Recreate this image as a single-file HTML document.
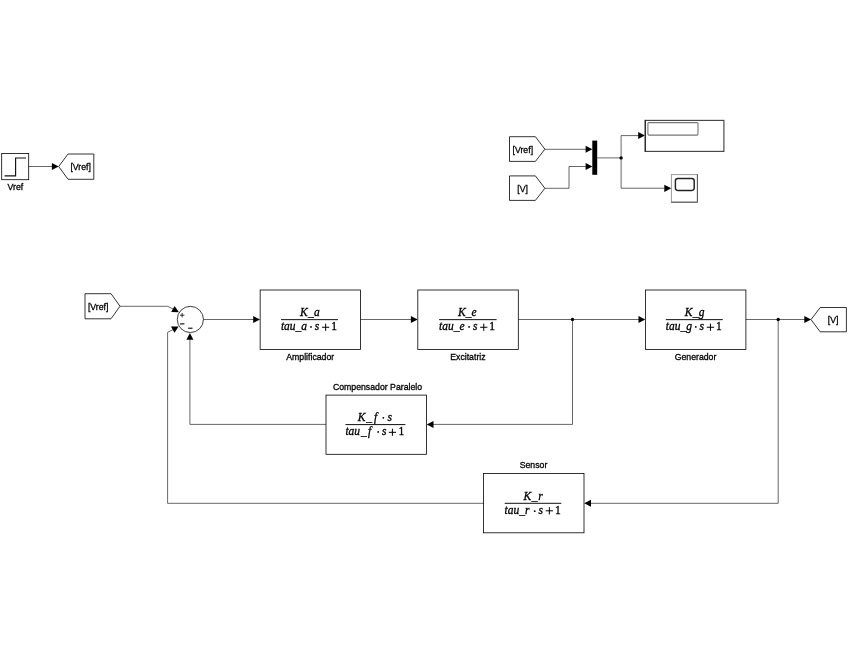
<!DOCTYPE html>
<html>
<head>
<meta charset="utf-8">
<title>Simulink AVR model</title>
<style>
html,body{margin:0;padding:0;background:#fff;}
body{width:848px;height:655px;overflow:hidden;font-family:"Liberation Sans",sans-serif;}
svg{display:block;filter:grayscale(1);}
.ln{stroke:#000;stroke-width:0.6;fill:none;}
.blk{stroke:#000;stroke-width:0.8;fill:#fff;}
.ar{fill:#000;stroke:none;}
.lab{font-family:"Liberation Sans",sans-serif;font-size:9.1px;fill:#000;stroke:#000;stroke-width:0.3;text-anchor:middle;}
.tag{font-family:"Liberation Sans",sans-serif;font-size:9.1px;fill:#000;stroke:#000;stroke-width:0.3;text-anchor:middle;}
.tf{font-family:"Liberation Serif",serif;font-size:11.5px;font-style:italic;fill:#000;stroke:#000;stroke-width:0.3;text-anchor:start;}
.up{font-style:normal;}
</style>
</head>
<body>
<svg width="848" height="655" viewBox="0 0 848 655">
<rect x="0" y="0" width="848" height="655" fill="#fff"/>

<g id="step">
  <rect class="blk" x="1.7" y="153.4" width="27.0" height="26.3"/>
  <polyline points="4.6,175.9 15.6,175.9 15.6,158 26,158" fill="none" stroke="#111" stroke-width="1.15"/>
  <text class="lab" transform="translate(15.4,190.2) scale(0.96,1.05)">Vref</text>
  <line class="ln" x1="28.7" y1="166.5" x2="53" y2="166.5"/>
  <polygon class="ar" points="51.90,163.00 58.70,166.50 51.90,170.00"/>
  <polygon class="blk" points="58.7,166.5 68,154 93.8,154 93.8,179.3 68,179.3"/>
  <text class="tag" transform="translate(80.7,169.8) scale(0.96,1.05)">[Vref]</text>
</g>
<g id="top-right">
  <polygon class="blk" points="509.5,136.7 535.4,136.7 544.9,149.2 535.4,161.4 509.5,161.4"/>
  <text class="tag" transform="translate(522.8,152.8) scale(0.96,1.05)">[Vref]</text>
  <polygon class="blk" points="509.5,175.9 535.4,175.9 544.9,188.3 535.4,200.4 509.5,200.4"/>
  <text class="tag" transform="translate(522.6,192.1) scale(0.96,1.05)">[V]</text>
  <line class="ln" x1="544.9" y1="149.3" x2="586" y2="149.3"/>
  <polygon class="ar" points="585.60,145.80 592.40,149.30 585.60,152.80"/>
  <polyline class="ln" points="544.9,188.3 569,188.3 569,166.5 586,166.5"/>
  <polygon class="ar" points="585.60,163.00 592.40,166.50 585.60,170.00"/>
  <rect x="592.3" y="140.6" width="4.9" height="34.2" fill="#000"/>
  <line class="ln" x1="597.2" y1="157.9" x2="621.1" y2="157.9"/>
  <circle cx="621.1" cy="157.9" r="1.7" fill="#000"/>
  <polyline class="ln" points="621.1,157.9 621.1,135.6 639,135.6"/>
  <polygon class="ar" points="638.20,132.10 645.00,135.60 638.20,139.10"/>
  <polyline class="ln" points="621.1,157.9 621.1,188.2 665,188.2"/>
  <polygon class="ar" points="664.30,184.70 671.30,188.30 664.30,191.90"/>
  <!-- Display -->
  <rect x="645.3" y="120.4" width="78.6" height="31.0" fill="#fff" stroke="#444" stroke-width="1.15"/>
  <line x1="645.2" y1="119.9" x2="645.2" y2="151.9" stroke="#111" stroke-width="0.9"/>
  <rect x="647.9" y="122.6" width="50.1" height="12.5" rx="1" ry="1" fill="#fff" stroke="#777" stroke-width="1.1"/>
  <!-- Scope -->
  <rect x="671.4" y="174.6" width="26.0" height="27.6" fill="#fff" stroke="#999" stroke-width="1.0"/>
  <polyline points="671.2,202.2 697.4,202.2 697.4,174.4" fill="none" stroke="#555" stroke-width="1.0"/>
  <rect x="675.4" y="178.4" width="18.8" height="12.0" rx="2.3" ry="2.3" fill="#fff" stroke="#222" stroke-width="1.45"/>
</g>
<g id="main">
  <polygon class="blk" points="85,293.7 111,293.7 120,306.2 111,318.8 85,318.8"/>
  <text class="tag" transform="translate(98.2,309.9) scale(0.96,1.05)">[Vref]</text>
  <polyline class="ln" points="120,306.3 167.6,306.3 173.7,309.3"/>
  <polygon class="ar" points="178.9,312.3 171.2,312.1 174.6,306.0"/>
  <circle cx="190.35" cy="319.45" r="13.1" fill="#fff" stroke="#000" stroke-width="0.75"/>
  <path d="M179.9,315.2 h4.5 M182.15,312.95 v4.5" stroke="#000" stroke-width="0.8" fill="none"/>
  <path d="M180,323.9 h4.4" stroke="#000" stroke-width="1.1" fill="none"/>
  <path d="M188.1,328.2 h4.4" stroke="#000" stroke-width="1.1" fill="none"/>
  <line class="ln" x1="203.5" y1="319.5" x2="254" y2="319.5"/>
  <polygon class="ar" points="253.20,316.00 260.00,319.50 253.20,323.00"/>
  <rect class="blk" x="260.15" y="290.0" width="100.4" height="59.4"/>
  <line x1="281.0" y1="319.65" x2="338.0" y2="319.65" stroke="#000" stroke-width="0.95"/>
  <text class="tf" x="299.90" y="316.10" textLength="19.8" lengthAdjust="spacing">K_a</text>
  <text class="tf" x="280.90" y="329.65">tau_a</text>
  <circle cx="311.00" cy="326.90" r="0.9" fill="#000"/>
  <text class="tf" x="314.80" y="329.65">s</text>
  <path d="M322.05,327.25 H329.25 M325.65,323.65 V330.85" stroke="#000" stroke-width="1.0" fill="none"/>
  <text class="tf up" x="331.20" y="329.65">1</text>
  <text class="lab" transform="translate(310.2,360.3) scale(0.96,1.05)">Amplificador</text>
  <line class="ln" x1="360.6" y1="319.5" x2="412" y2="319.5"/>
  <polygon class="ar" points="410.90,316.00 417.70,319.50 410.90,323.00"/>
  <rect class="blk" x="417.8" y="290.0" width="100.5" height="59.4"/>
  <line x1="439.1" y1="319.65" x2="496.6" y2="319.65" stroke="#000" stroke-width="0.95"/>
  <text class="tf" x="457.90" y="316.10" textLength="18.8" lengthAdjust="spacing">K_e</text>
  <text class="tf" x="439.00" y="329.65">tau_e</text>
  <circle cx="469.10" cy="326.90" r="0.9" fill="#000"/>
  <text class="tf" x="472.90" y="329.65">s</text>
  <path d="M480.15,327.25 H487.35 M483.75,323.65 V330.85" stroke="#000" stroke-width="1.0" fill="none"/>
  <text class="tf up" x="489.30" y="329.65">1</text>
  <text class="lab" transform="translate(467.9,360.3) scale(0.96,1.05)">Excitatriz</text>
  <line class="ln" x1="518.3" y1="319.5" x2="639" y2="319.5"/>
  <circle cx="572.5" cy="319.5" r="1.7" fill="#000"/>
  <polygon class="ar" points="638.50,316.00 645.30,319.50 638.50,323.00"/>
  <rect class="blk" x="645.4" y="290.0" width="100.5" height="59.4"/>
  <line x1="665.8" y1="319.65" x2="722.8" y2="319.65" stroke="#000" stroke-width="0.95"/>
  <text class="tf" x="684.70" y="316.10" textLength="19.8" lengthAdjust="spacing">K_g</text>
  <text class="tf" x="665.70" y="329.65">tau_g</text>
  <circle cx="695.80" cy="326.90" r="0.9" fill="#000"/>
  <text class="tf" x="699.60" y="329.65">s</text>
  <path d="M706.85,327.25 H714.05 M710.45,323.65 V330.85" stroke="#000" stroke-width="1.0" fill="none"/>
  <text class="tf up" x="716.00" y="329.65">1</text>
  <text class="lab" transform="translate(695.5,360.0) scale(0.96,1.05)">Generador</text>
  <line class="ln" x1="745.9" y1="319.5" x2="805" y2="319.5"/>
  <circle cx="778.2" cy="319.5" r="1.7" fill="#000"/>
  <polygon class="ar" points="804.30,316.00 811.10,319.50 804.30,323.00"/>
  <polygon class="blk" points="811,319.6 820.2,307.5 846.4,307.5 846.4,331.8 820.2,331.8"/>
  <text class="tag" transform="translate(833.2,322.8) scale(0.96,1.05)">[V]</text>
  <polyline class="ln" points="572.5,319.5 572.5,424.4 433,424.4"/>
  <polygon class="ar" points="433.50,420.90 426.70,424.40 433.50,427.90"/>
  <rect class="blk" x="326.0" y="395.1" width="100.5" height="59.2"/>
  <text class="lab" transform="translate(377.5,390) scale(0.96,1.05)">Compensador Paralelo</text>
  <line x1="345.5" y1="424.6" x2="405.4" y2="424.6" stroke="#000" stroke-width="0.95"/>
  <text class="tf" x="357.80" y="420.75">K<tspan dx="0.9">_</tspan><tspan dx="1.9">f</tspan></text>
  <circle cx="383.30" cy="417.85" r="0.9" fill="#000"/>
  <text class="tf" x="387.50" y="420.75">s</text>
  <text class="tf" x="345.40" y="434.70">tau<tspan dx="0.9">_</tspan><tspan dx="1.3">f</tspan></text>
  <circle cx="378.20" cy="431.95" r="0.9" fill="#000"/>
  <text class="tf" x="382.00" y="434.70">s</text>
  <path d="M388.80,432.30 H396.00 M392.40,428.70 V435.90" stroke="#000" stroke-width="1.0" fill="none"/>
  <text class="tf up" x="398.40" y="434.70">1</text>
  <polyline class="ln" points="326.0,424.4 189.9,424.4 189.9,339"/>
  <polygon class="ar" points="186.40,339.70 189.90,332.90 193.40,339.70"/>
  <polyline class="ln" points="778.2,319.5 778.2,503.3 590,503.3"/>
  <polygon class="ar" points="591.00,499.80 584.20,503.30 591.00,506.80"/>
  <rect class="blk" x="483.5" y="473.5" width="100.5" height="59.3"/>
  <text class="lab" transform="translate(533.5,468.2) scale(0.96,1.05)">Sensor</text>
  <line x1="504.7" y1="503.3" x2="561.3" y2="503.3" stroke="#000" stroke-width="0.95"/>
  <text class="tf" x="523.40" y="499.75" textLength="19.4" lengthAdjust="spacing">K_r</text>
  <text class="tf" x="504.60" y="513.90">tau_r</text>
  <circle cx="534.70" cy="511.15" r="0.9" fill="#000"/>
  <text class="tf" x="538.50" y="513.90">s</text>
  <path d="M545.75,510.80 H552.95 M549.35,507.20 V514.40" stroke="#000" stroke-width="1.0" fill="none"/>
  <text class="tf up" x="554.90" y="513.90">1</text>
  <polyline class="ln" points="483.5,503.3 167.6,503.3 167.6,332.4 173.2,329.5"/>
  <polygon class="ar" points="178.6,326.4 171.0,326.6 174.5,332.7"/>
</g>
</svg>
</body>
</html>
